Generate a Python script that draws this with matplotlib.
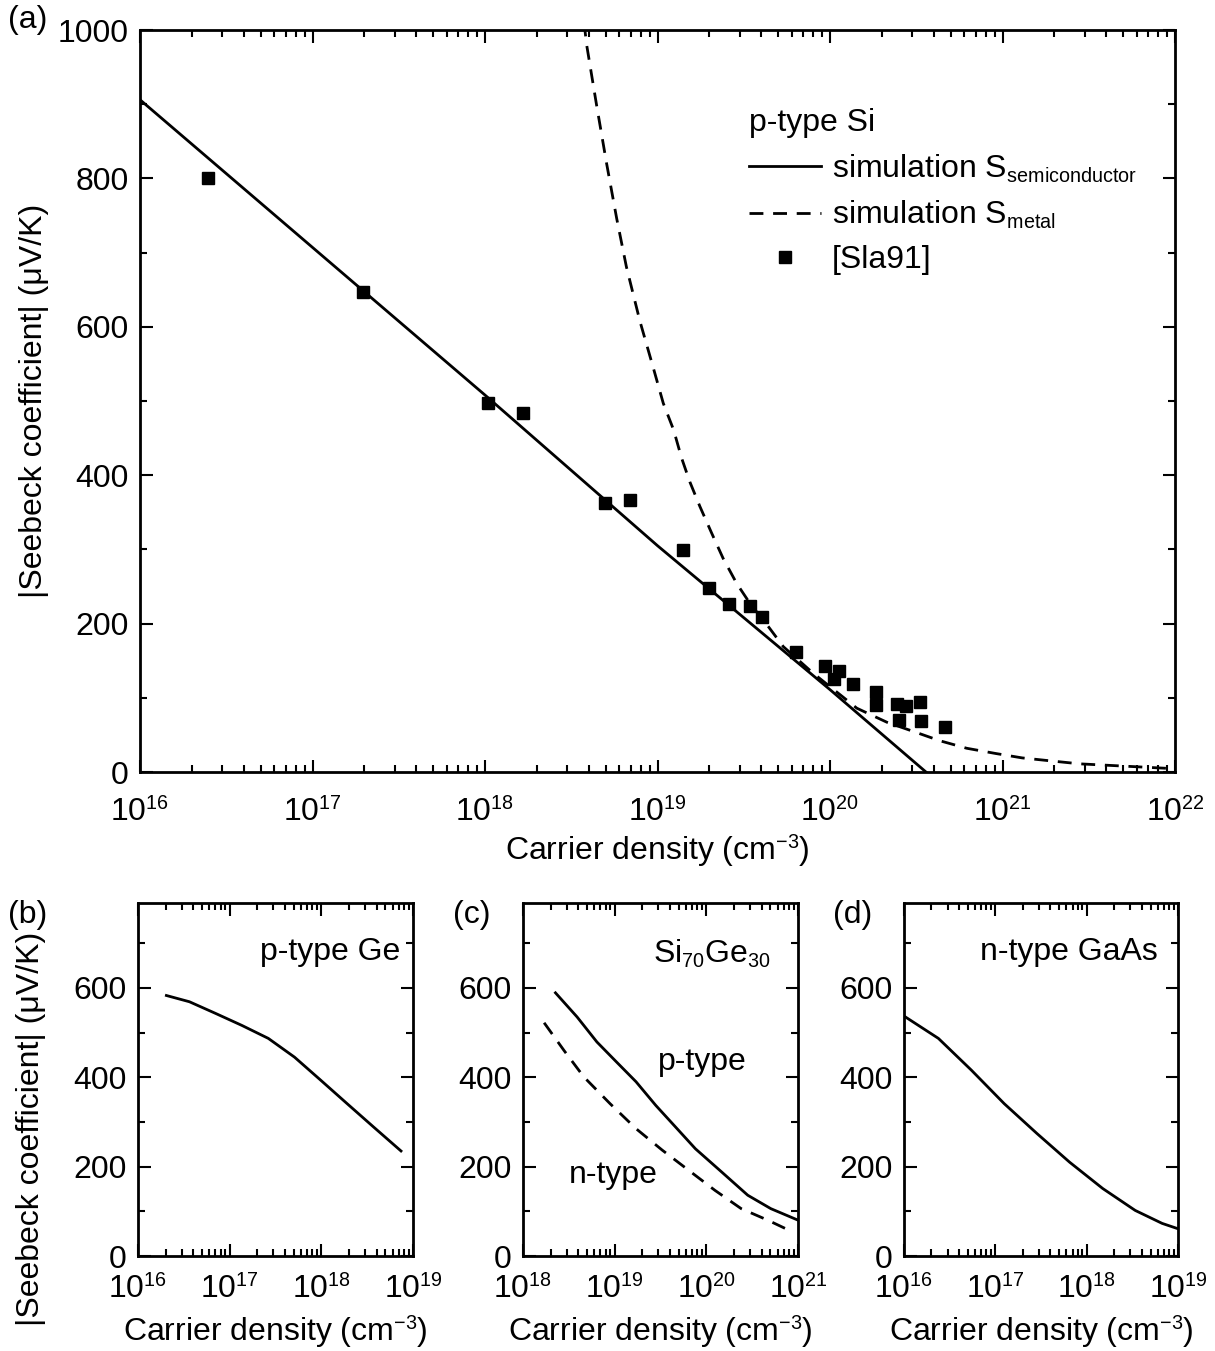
import numpy as np
import matplotlib
matplotlib.use("Agg")
import matplotlib.pyplot as plt
from matplotlib.ticker import LogLocator, NullFormatter, MultipleLocator, FuncFormatter

try:
    import matplotlib._mathtext as _mt
    _mt.SHRINK_FACTOR = 0.62
except Exception:
    pass

plt.rcParams['font.family'] = ['Liberation Sans', 'DejaVu Sans']
plt.rcParams['mathtext.fontset'] = 'custom'
plt.rcParams['mathtext.rm'] = 'Liberation Sans'
plt.rcParams['mathtext.it'] = 'Liberation Sans:italic'
plt.rcParams['mathtext.default'] = 'regular'

# ---------------- data: (a) p-type Si ----------------
si_sim_semi_x = [1e16, 1e17, 1e18, 1e19, 1e20, 3.6e20]
si_sim_semi_y = [906, 707, 508, 305, 111, 0]

si_sim_metal_x = [3.75e18, 3.89e18, 4.44e18, 5.07e18, 5.8e18, 6.6e18, 7.9e18, 9.5e18, 1.08e19,
                  1.24e19, 1.38e19, 1.54e19, 1.76e19, 2.06e19, 2.4e19, 2.88e19, 3.44e19,
                  4.39e19, 5.36e19, 8.0e19, 1.19e20, 1.43e20, 2.14e20, 3.1e20, 4.35e20,
                  6.2e20, 9.1e20, 1.3e21, 1.9e21, 2.8e21, 8.9e21, 1e22]
si_sim_metal_y = [1010, 979, 898, 820, 746, 681, 608, 543, 497,
                  461, 423, 391, 358, 322, 288, 254, 227,
                  196, 169, 133, 101, 86, 67, 54, 42,
                  32, 25, 19, 15, 11, 5, 4]

sla91_x = [2.48e16, 1.96e17, 1.04e18, 1.66e18, 4.97e18, 6.9e18, 1.41e19, 1.99e19,
           2.6e19, 3.44e19, 4.03e19, 6.35e19, 9.36e19, 1.13e20, 1.05e20, 1.36e20,
           1.85e20, 1.85e20, 2.44e20, 2.76e20, 3.33e20, 2.51e20, 3.37e20, 4.64e20]
sla91_y = [800, 647, 497, 484, 362, 367, 299, 248,
           226, 224, 209, 162, 143, 136, 125, 119,
           108, 90, 92, 89, 94, 70, 69, 61]

# ---------------- data: (b) p-type Ge ----------------
ge_x = [2.04e16, 3.64e16, 7.0e16, 1.36e17, 2.64e17, 5.1e17, 9.9e17, 1.91e18, 3.7e18, 7.4e18]
ge_y = [583, 569, 543, 516, 487, 445, 393, 341, 289, 235]

# ---------------- data: (c) Si70Ge30 ----------------
sige_p_x = [2.26e18, 3.89e18, 6.4e18, 1.05e19, 1.71e19, 2.81e19, 4.6e19, 7.6e19,
            1.47e20, 2.83e20, 5.05e20, 9.8e20]
sige_p_y = [589, 535, 479, 434, 390, 337, 289, 240, 188, 136, 106, 81]
sige_n_x = [1.7e18, 2.8e18, 4.6e18, 8.9e18, 1.71e19, 3.3e19, 6.4e19, 1.24e20,
            2.4e20, 4.7e20, 8.3e20]
sige_n_y = [522, 460, 401, 341, 285, 237, 192, 147, 106, 80, 56]

# ---------------- data: (d) n-type GaAs ----------------
gaas_x = [1e16, 2.38e16, 5.46e16, 1.25e17, 2.86e17, 6.5e17, 1.5e18, 3.4e18, 6.7e18, 1.0e19]
gaas_y = [537, 487, 416, 341, 274, 210, 151, 102, 73, 61]

FS = 23
W, H = 1215, 1351
fig = plt.figure(figsize=(W / 100, H / 100), dpi=100)


def logfmt(v, pos):
    e = int(round(np.log10(v)))
    return r'10$^{%d}$' % e


def style(ax, xlim, ylim, ymajor, yminor, xpad):
    ax.set_xscale('log')
    ax.set_xlim(*xlim)
    ax.set_ylim(*ylim)
    ax.xaxis.set_major_locator(LogLocator(base=10, numticks=20))
    ax.xaxis.set_major_formatter(FuncFormatter(logfmt))
    ax.xaxis.set_minor_locator(LogLocator(base=10, subs=np.arange(2, 10), numticks=20))
    ax.xaxis.set_minor_formatter(NullFormatter())
    ax.yaxis.set_major_locator(MultipleLocator(ymajor))
    ax.yaxis.set_minor_locator(MultipleLocator(yminor))
    ax.tick_params(which='both', direction='in', top=True, right=True, labelsize=FS)
    ax.tick_params(which='major', length=9, width=1.5)
    ax.tick_params(which='minor', length=5, width=1.5)
    ax.tick_params(axis='y', which='major', pad=8)
    ax.tick_params(axis='x', which='major', pad=xpad)
    for s in ax.spines.values():
        s.set_linewidth(2)


def fx(px):
    return px / W


def fy(py):
    return 1 - py / H


# ---------------- main panel ----------------
axa = fig.add_axes([fx(140), fy(772), fx(1175 - 140), (772 - 30) / H])
style(axa, (1e16, 1e22), (0, 1000), 200, 100, 19)
l1, = axa.plot(si_sim_semi_x, si_sim_semi_y, 'k-', lw=2)
l2, = axa.plot(si_sim_metal_x, si_sim_metal_y, 'k--', lw=2, dashes=(5, 3.5))
l3, = axa.plot(sla91_x, sla91_y, 'ks', ms=8.5, ls='none')
axa.set_xlabel(r'Carrier density (cm$^{-3}$)', fontsize=FS, labelpad=3)
axa.set_ylabel(r'|Seebeck coefficient| (μV/K)', fontsize=FS)
axa.yaxis.set_label_coords(-0.088, 0.5)
leg = axa.legend([l1, l2, l3],
                 [r'simulation S$_{\rm semiconductor}$', r'simulation S$_{\rm metal}$', '[Sla91]'],
                 title='p-type Si', title_fontsize=FS, fontsize=FS, frameon=False,
                 loc='upper left', bbox_to_anchor=(0.576, 0.912), handlelength=2.26,
                 handletextpad=0.34, labelspacing=0.45, borderaxespad=0)
leg._legend_box.align = 'left'
fig.text(fx(8), fy(20), '(a)', fontsize=FS, va='center', ha='left')

# ---------------- bottom panels ----------------
bot, top = 1256, 903
hb = (bot - top) / H

axb = fig.add_axes([fx(138), fy(bot), fx(413 - 138), hb])
style(axb, (1e16, 1e19), (0, 790), 200, 100, 14)
axb.plot(ge_x, ge_y, 'k-', lw=2)
axb.text(0.955, 0.861, 'p-type Ge', transform=axb.transAxes, ha='right', va='center', fontsize=FS)
axb.set_xlabel(r'Carrier density (cm$^{-3}$)', fontsize=FS, labelpad=6)
axb.set_ylabel(r'|Seebeck coefficient| (μV/K)', fontsize=FS)
axb.yaxis.set_label_coords(-0.335, 0.36)
fig.text(fx(8), fy(915), '(b)', fontsize=FS, va='center', ha='left')

axc = fig.add_axes([fx(523), fy(bot), fx(798 - 523), hb])
style(axc, (1e18, 1e21), (0, 790), 200, 100, 14)
axc.plot(sige_p_x, sige_p_y, 'k-', lw=2)
axc.plot(sige_n_x, sige_n_y, 'k--', lw=2, dashes=(5, 3.5))
axc.text(0.9, 0.855, r'Si$_{70}$Ge$_{30}$', transform=axc.transAxes, ha='right', va='center', fontsize=FS)
axc.text(0.651, 0.55, 'p-type', transform=axc.transAxes, ha='center', va='center', fontsize=FS)
axc.text(0.327, 0.229, 'n-type', transform=axc.transAxes, ha='center', va='center', fontsize=FS)
axc.set_xlabel(r'Carrier density (cm$^{-3}$)', fontsize=FS, labelpad=6)
fig.text(fx(453), fy(915), '(c)', fontsize=FS, va='center', ha='left')

axd = fig.add_axes([fx(904), fy(bot), fx(1178 - 904), hb])
style(axd, (1e16, 1e19), (0, 790), 200, 100, 14)
axd.plot(gaas_x, gaas_y, 'k-', lw=2)
axd.text(0.927, 0.861, 'n-type GaAs', transform=axd.transAxes, ha='right', va='center', fontsize=FS)
axd.set_xlabel(r'Carrier density (cm$^{-3}$)', fontsize=FS, labelpad=6)
fig.text(fx(833), fy(915), '(d)', fontsize=FS, va='center', ha='left')

fig.savefig('out.png', dpi=100)
